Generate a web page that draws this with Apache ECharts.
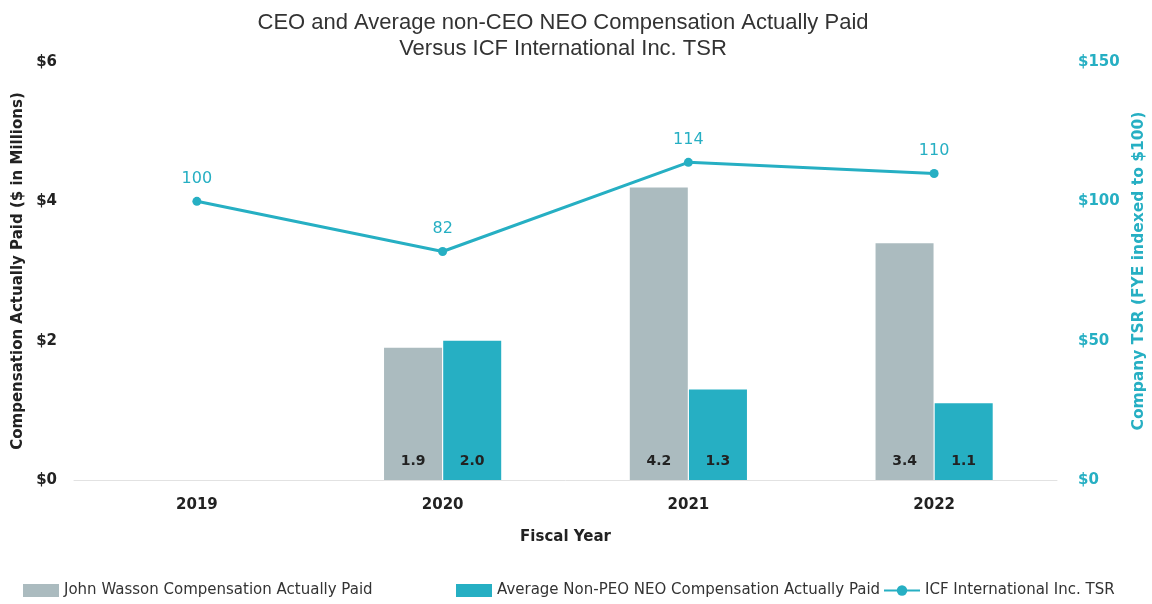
<!DOCTYPE html>
<html lang="en">
<head>
    <meta charset="UTF-8">
    <title>CEO and Average non-CEO NEO Compensation Actually Paid Versus ICF TSR</title>
    <script src="https://cdn.jsdelivr.net/npm/echarts@6/dist/echarts.min.js"></script>
    <style>
        html, body { margin: 0; padding: 0; background: #fff; }
        #main { width: 1152px; height: 604px; }
    </style>
</head>
<body>
<div id="main"></div>
<script>
    // data
    var years = ['2019', '2020', '2021', '2022'];
    var ceoPaid = [null, 1.9, 4.2, 3.4];
    var neoPaid = [null, 2.0, 1.3, 1.1];
    var tsr = [100, 82, 114, 110];

    var ceoName = 'John Wasson Compensation Actually Paid';
    var neoName = 'Average Non-PEO NEO Compensation Actually Paid';
    var tsrName = 'ICF International Inc. TSR';

    var gray = '#abbbbf';
    var teal = '#26afc3';
    var wide = '"DejaVu Sans", Verdana, sans-serif';
    var narrow = '"Liberation Sans", Arial, sans-serif';

    // one legend per item so each sits where it does in the original
    function legendAt(x, name, icon) {
        return {
            left: x,
            bottom: 1,
            itemWidth: 36,
            itemHeight: 13,
            itemGap: 0,
            textStyle: { fontFamily: wide, fontSize: 15, color: '#333' },
            data: [icon ? { name: name, icon: icon } : name]
        };
    }

    var myChart = echarts.init(document.getElementById('main'));
    myChart.setOption({
        animation: false,
        textStyle: { fontFamily: wide },
        title: {
            text: 'CEO and Average non-CEO NEO Compensation Actually Paid\nVersus ICF International Inc. TSR',
            left: 558,
            textAlign: 'center',
            top: 5,
            textStyle: { fontFamily: narrow, fontSize: 22, fontWeight: 'normal', color: '#333', lineHeight: 26 }
        },
        legend: [
            legendAt(18, ceoName, 'rect'),
            legendAt(451, neoName, 'rect'),
            legendAt(878, tsrName)
        ],
        grid: { left: 74, right: 95, top: 62, bottom: 124, outerBoundsMode: 'none', containLabel: false },
        xAxis: {
            type: 'category',
            data: years,
            name: 'Fiscal Year',
            nameLocation: 'middle',
            nameGap: 50,
            nameTextStyle: { fontSize: 15, fontWeight: 'bold', color: '#222' },
            axisTick: { show: false },
            axisLine: { lineStyle: { color: '#e2e2e2', width: 1 } },
            axisLabel: { fontSize: 15, fontWeight: 'bold', color: '#222', margin: 18 }
        },
        yAxis: [{
            type: 'value',
            min: 0, max: 6, interval: 2,
            name: 'Compensation Actually Paid ($ in Millions)',
            nameLocation: 'middle',
            nameGap: 48,
            nameTextStyle: { fontSize: 15, fontWeight: 'bold', color: '#222' },
            splitLine: { show: false },
            axisLabel: { fontSize: 15, fontWeight: 'bold', color: '#222', margin: 17, formatter: '${value}' }
        }, {
            type: 'value',
            min: 0, max: 150, interval: 50,
            name: 'Company TSR (FYE indexed to $100)',
            nameLocation: 'middle',
            nameGap: 74,
            nameRotate: 90,
            nameTextStyle: { fontSize: 15.5, fontWeight: 'bold', color: teal },
            splitLine: { show: false },
            axisLabel: { fontSize: 15, fontWeight: 'bold', color: teal, margin: 21, formatter: '${value}' }
        }],
        series: [{
            name: ceoName,
            type: 'bar',
            data: ceoPaid,
            barWidth: 58,
            barGap: '2%',
            itemStyle: { color: gray },
            label: {
                show: true, position: 'insideBottom', distance: 12,
                fontSize: 14, fontWeight: 'bold', color: '#222',
                formatter: function (p) { return p.value.toFixed(1); }
            }
        }, {
            name: neoName,
            type: 'bar',
            data: neoPaid,
            barWidth: 58,
            itemStyle: { color: teal },
            label: {
                show: true, position: 'insideBottom', distance: 12,
                fontSize: 14, fontWeight: 'bold', color: '#222',
                formatter: function (p) { return p.value.toFixed(1); }
            }
        }, {
            name: tsrName,
            type: 'line',
            yAxisIndex: 1,
            data: tsr,
            symbol: 'circle',
            symbolSize: 9,
            lineStyle: { color: teal, width: 3 },
            itemStyle: { color: teal },
            label: { show: true, position: 'top', distance: 10, fontSize: 16, color: teal }
        }]
    });
</script>
</body>
</html>
